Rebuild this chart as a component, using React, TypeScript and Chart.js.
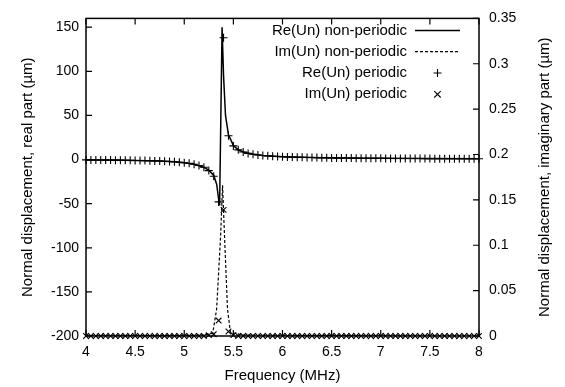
import React, { useEffect, useRef } from 'react';
import { Chart, registerables } from 'chart.js';
Chart.register(...registerables);

// ---- data ----
const freqLine = [4.0, 4.25, 4.5, 4.75, 4.9, 5.0, 5.1, 5.2, 5.25, 5.3, 5.33, 5.35, 5.36, 5.385, 5.4, 5.42, 5.45, 5.5, 5.55, 5.6, 5.7, 5.8, 6.0, 6.5, 7.0, 7.5, 8.0];
const reLine = [-0.4, -0.6, -1.0, -1.7, -2.6, -3.6, -5.3, -8.8, -12, -18, -28, -45, -52, 150, 95, 50, 28, 16, 11, 8.5, 6, 4.6, 3.2, 1.9, 1.35, 1.08, 0.86];

const freqImLine = [4.0, 5.0, 5.2, 5.29, 5.33, 5.37, 5.39, 5.41, 5.44, 5.47, 5.6, 6.0, 8.0];
const imLine = [0, 0.0005, 0.001, 0.003, 0.03, 0.11, 0.166, 0.11, 0.03, 0.004, 0.001, 0.0005, 0];

const freqPeriodic = [
  4.0, 4.05, 4.1, 4.15, 4.2, 4.25, 4.3, 4.35, 4.4, 4.45,
  4.5, 4.55, 4.6, 4.65, 4.7, 4.75, 4.8, 4.85, 4.9, 4.95,
  5.0, 5.05, 5.1, 5.15, 5.2, 5.25, 5.3, 5.35, 5.4, 5.45,
  5.5, 5.55, 5.6, 5.65, 5.7, 5.75, 5.8, 5.85, 5.9, 5.95,
  6.0, 6.05, 6.1, 6.15, 6.2, 6.25, 6.3, 6.35, 6.4, 6.45,
  6.5, 6.55, 6.6, 6.65, 6.7, 6.75, 6.8, 6.85, 6.9, 6.95,
  7.0, 7.05, 7.1, 7.15, 7.2, 7.25, 7.3, 7.35, 7.4, 7.45,
  7.5, 7.55, 7.6, 7.65, 7.7, 7.75, 7.8, 7.85, 7.9, 7.95,
  8.0,
];
const rePeriodic = [
  -0.4, -0.4, -0.5, -0.5, -0.6, -0.6, -0.7, -0.7, -0.8, -0.9,
  -1.0, -1.1, -1.2, -1.3, -1.5, -1.7, -1.9, -2.2, -2.6, -3.0,
  -3.6, -4.3, -5.3, -6.7, -8.8, -12.5, -19, -48, 138, 27,
  15.5, 11, 8.5, 7, 6, 5.2, 4.6, 4.2, 3.8, 3.5,
  3.2, 3.0, 2.8, 2.6, 2.5, 2.4, 2.3, 2.2, 2.1, 2.0,
  1.9, 1.85, 1.8, 1.7, 1.65, 1.6, 1.55, 1.5, 1.45, 1.4,
  1.35, 1.3, 1.28, 1.25, 1.22, 1.2, 1.17, 1.15, 1.12, 1.1,
  1.08, 1.05, 1.03, 1.0, 0.98, 0.96, 0.94, 0.92, 0.9, 0.88,
  0.86,
];
const imPeriodic = [
  0, 0, 0, 0, 0, 0, 0, 0, 0, 0,
  0, 0, 0, 0, 0, 0, 0, 0, 0, 0,
  0, 0, 0, 0, 0, 0.001, 0.002, 0.017, 0.139, 0.005,
  0.001, 0, 0, 0, 0, 0, 0, 0, 0, 0,
  0, 0, 0, 0, 0, 0, 0, 0, 0, 0,
  0, 0, 0, 0, 0, 0, 0, 0, 0, 0,
  0, 0, 0, 0, 0, 0, 0, 0, 0, 0,
  0, 0, 0, 0, 0, 0, 0, 0, 0, 0,
  0,
];

const xTicks = [4, 4.5, 5, 5.5, 6, 6.5, 7, 7.5, 8];
const yTicks = [-200, -150, -100, -50, 0, 50, 100, 150];
const y2Ticks = [0, 0.05, 0.1, 0.15, 0.2, 0.25, 0.3, 0.35];

const seriesLabels = ['Re(Un) non-periodic', 'Im(Un) non-periodic', 'Re(Un) periodic', 'Im(Un) periodic'];
const xTitle = 'Frequency (MHz)';
const yTitle = 'Normal displacement, real part (\u00b5m)';
const y2Title = 'Normal displacement, imaginary part (\u00b5m)';

// ---- layout ----
const W = 565, H = 387;
const LEFT = 86, RIGHT = 479, TOP = 13, BOTTOM = 336;
const FONT = "'Liberation Sans', Arial, Helvetica, sans-serif";
const TICK_SIZE = 14;
const TEXT_SIZE = 15;
const INK = '#000';

const framePlugin = {
  id: 'frame',
  afterDatasetsDraw(chart: any) {
    const { ctx, chartArea: a, scales } = chart;
    ctx.save();
    ctx.strokeStyle = INK;
    ctx.lineWidth = 1.5;
    ctx.strokeRect(a.left, a.top, a.right - a.left, a.bottom - a.top);
    ctx.lineWidth = 1.2;
    const len = 6;
    ctx.beginPath();
    xTicks.forEach((v) => {
      const px = scales.x.getPixelForValue(v);
      ctx.moveTo(px, a.bottom); ctx.lineTo(px, a.bottom - len);
      ctx.moveTo(px, a.top); ctx.lineTo(px, a.top + len);
    });
    yTicks.forEach((v) => {
      const py = scales.y.getPixelForValue(v);
      ctx.moveTo(a.left, py); ctx.lineTo(a.left + len, py);
    });
    y2Ticks.forEach((v) => {
      const py = scales.y2.getPixelForValue(v);
      ctx.moveTo(a.right, py); ctx.lineTo(a.right - len, py);
    });
    ctx.stroke();
    ctx.restore();
  },
  afterDraw(chart: any) {
    const { ctx, chartArea: a } = chart;
    ctx.save();
    ctx.fillStyle = INK;
    ctx.strokeStyle = INK;
    // right axis title, reading bottom to top
    ctx.font = `${TEXT_SIZE}px ${FONT}`;
    ctx.translate(545, (a.top + a.bottom) / 2);
    ctx.rotate(-Math.PI / 2);
    ctx.textAlign = 'center';
    ctx.textBaseline = 'middle';
    ctx.fillText(y2Title, 0, 0);
    ctx.restore();

    // legend
    ctx.save();
    ctx.font = `${TEXT_SIZE}px ${FONT}`;
    ctx.fillStyle = INK;
    ctx.strokeStyle = INK;
    ctx.textAlign = 'right';
    ctx.textBaseline = 'middle';
    const textX = 407, s0 = 415, s1 = 460, rowY = a.top + 12, rowH = 21.3;
    chart.data.datasets.forEach((ds: any, i: number) => {
      const y = rowY + i * rowH;
      ctx.fillText(ds.label, textX, y);
      ctx.beginPath();
      if (i < 2) {
        ctx.lineWidth = ds.borderWidth;
        ctx.setLineDash(ds.borderDash || []);
        ctx.moveTo(s0, y); ctx.lineTo(s1, y);
      } else {
        ctx.lineWidth = 1.1;
        ctx.setLineDash([]);
        const cx = (s0 + s1) / 2, r = 4;
        if (ds.pointStyle === 'cross') {
          ctx.moveTo(cx - r, y); ctx.lineTo(cx + r, y);
          ctx.moveTo(cx, y - r); ctx.lineTo(cx, y + r);
        } else {
          const d = r * 0.8;
          ctx.moveTo(cx - d, y - d); ctx.lineTo(cx + d, y + d);
          ctx.moveTo(cx - d, y + d); ctx.lineTo(cx + d, y - d);
        }
      }
      ctx.stroke();
    });
    ctx.restore();
  },
};

export default function App() {
  const ref = useRef<HTMLCanvasElement | null>(null);
  useEffect(() => {
    if (!ref.current) return;
    const tickFont = { family: FONT, size: TICK_SIZE };
    const chart = new Chart(ref.current, {
      type: 'line',
      data: {
        datasets: [
          {
            label: seriesLabels[0],
            data: freqLine.map((f, i) => ({ x: f, y: reLine[i] })),
            yAxisID: 'y',
            borderColor: INK,
            borderWidth: 1.5,
            pointRadius: 0,
            tension: 0,
            fill: false,
          },
          {
            label: seriesLabels[1],
            data: freqImLine.map((f, i) => ({ x: f, y: imLine[i] })),
            yAxisID: 'y2',
            borderColor: INK,
            borderWidth: 1.2,
            borderDash: [3, 2],
            pointRadius: 0,
            tension: 0,
            fill: false,
          },
          {
            label: seriesLabels[2],
            data: freqPeriodic.map((f, i) => ({ x: f, y: rePeriodic[i] })),
            yAxisID: 'y',
            showLine: false,
            pointStyle: 'cross',
            pointRadius: 4,
            pointBorderWidth: 1.1,
            borderColor: INK,
            backgroundColor: INK,
            clip: false,
          } as any,
          {
            label: seriesLabels[3],
            data: freqPeriodic.map((f, i) => ({ x: f, y: imPeriodic[i] })),
            yAxisID: 'y2',
            showLine: false,
            pointStyle: 'crossRot',
            pointRadius: 4,
            pointBorderWidth: 1.1,
            borderColor: INK,
            backgroundColor: INK,
            clip: false,
          } as any,
        ],
      },
      options: {
        animation: false,
        responsive: false,
        maintainAspectRatio: false,
        devicePixelRatio: 1,
        layout: { padding: { top: TOP, left: 0, right: 0, bottom: 0 } },
        plugins: { legend: { display: false }, tooltip: { enabled: false } },
        scales: {
          x: {
            type: 'linear',
            min: 4,
            max: 8,
            grid: { display: false, drawTicks: false },
            border: { display: false },
            afterBuildTicks: (s: any) => { s.ticks = xTicks.map((v) => ({ value: v })); },
            afterFit: (s: any) => { s.height = H - BOTTOM; },
            ticks: { color: INK, font: tickFont, padding: 8, maxRotation: 0, autoSkip: false, callback: (v: any) => String(v) },
            title: { display: true, text: xTitle, color: INK, font: { family: FONT, size: TEXT_SIZE }, padding: { top: 0, bottom: 2 } },
          },
          y: {
            type: 'linear',
            position: 'left',
            min: -200,
            max: 160,
            grid: { display: false, drawTicks: false },
            border: { display: false },
            afterBuildTicks: (s: any) => { s.ticks = yTicks.map((v) => ({ value: v })); },
            afterFit: (s: any) => { s.width = LEFT; },
            ticks: { color: INK, font: tickFont, padding: 7, autoSkip: false, callback: (v: any) => String(v) },
            title: { display: true, text: yTitle, color: INK, font: { family: FONT, size: TEXT_SIZE }, padding: { top: 19, bottom: 0 } },
          },
          y2: {
            type: 'linear',
            position: 'right',
            min: 0,
            max: 0.35,
            grid: { display: false, drawTicks: false },
            border: { display: false },
            afterBuildTicks: (s: any) => { s.ticks = y2Ticks.map((v) => ({ value: v })); },
            afterFit: (s: any) => { s.width = W - RIGHT; },
            ticks: { color: INK, font: tickFont, padding: 10, autoSkip: false, callback: (v: any) => String(v) },
          },
        },
      } as any,
      plugins: [framePlugin],
    });
    return () => chart.destroy();
  }, []);
  return (
    <div style={{ position: 'fixed', left: 0, top: 0, width: W, height: H, background: '#fff' }}>
      <canvas ref={ref} width={W} height={H} style={{ width: W, height: H, display: 'block' }} />
    </div>
  );
}
